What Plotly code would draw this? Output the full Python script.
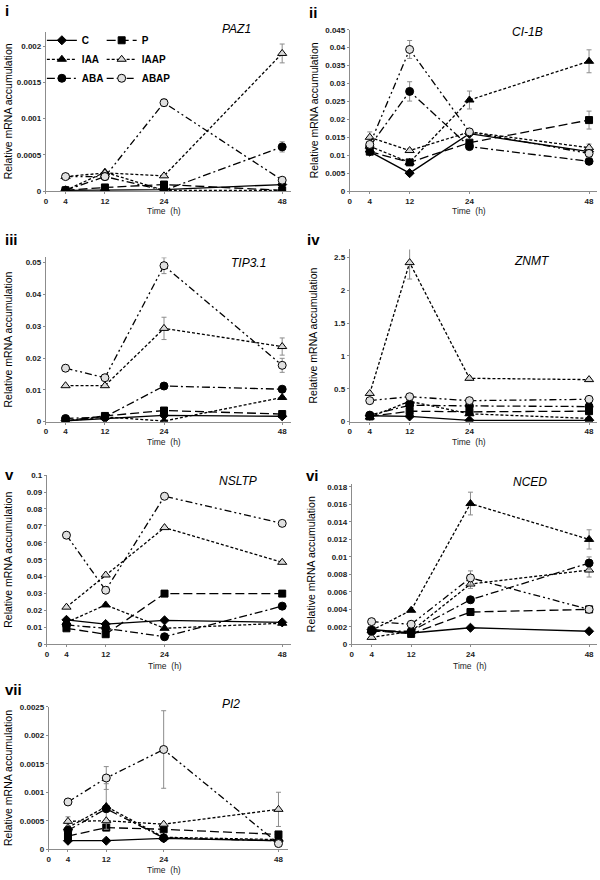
import plotly.graph_objects as go

# ---------------- data ----------------
HOURS = [4, 12, 24, 48]
SERIES = ["C", "P", "IAA", "IAAP", "ABA", "ABAP"]
X_TICKS = [0, 4, 12, 24, 48]
X_TICK_TEXT = ["0", "4", "12", "24", "48"]

# PAZ1
PAZ1_C = [0.00001, 0.00001, 0.00002, 0.00009]
PAZ1_P = [0.00001, 0.00005, 0.00009, 0.00001]
PAZ1_IAA = [0.00001, 0.00026, 0.00001, 0.00001]
PAZ1_IAAP = [0.0002, 0.00025, 0.00021, 0.0019]
PAZ1_ABA = [0.00001, 0.0002, 0.00001, 0.00061]
PAZ1_ABAP = [0.0002, 0.0002, 0.00122, 0.00015]
PAZ1_ERR = {"IAAP": [0.00002, 0, 0.00002, 0.00013], "ABAP": [0.00002, 0, 0.00005, 0.00002], "ABA": [0, 0, 0, 0.00007]}

# CI-1B
CI1B_C = [0.011, 0.005, 0.016, 0.011]
CI1B_P = [0.011, 0.008, 0.0135, 0.0198]
CI1B_IAA = [0.0125, 0.008, 0.0254, 0.0362]
CI1B_IAAP = [0.015, 0.0113, 0.0165, 0.0121]
CI1B_ABA = [0.0125, 0.0278, 0.0124, 0.0083]
CI1B_ABAP = [0.013, 0.0395, 0.0165, 0.0105]
CI1B_ERR = {"IAAP": [0.0015, 0.0005, 0, 0.001], "ABAP": [0, 0.0025, 0, 0.001], "ABA": [0, 0.0027, 0, 0],
            "IAA": [0, 0, 0.0025, 0.0032], "P": [0, 0, 0, 0.0025]}

# TIP3.1
TIP31_C = [0.0003, 0.001, 0.002, 0.0017]
TIP31_P = [0.0003, 0.0018, 0.0035, 0.0024]
TIP31_IAA = [0.0002, 0.0015, 0.0002, 0.0076]
TIP31_IAAP = [0.0113, 0.0113, 0.0293, 0.0236]
TIP31_ABA = [0.001, 0.0015, 0.0112, 0.0102]
TIP31_ABAP = [0.0168, 0.0138, 0.049, 0.0177]
TIP31_ERR = {"IAAP": [0, 0, 0.0035, 0.0027], "ABAP": [0.001, 0, 0.0025, 0.0022]}

# ZNMT
ZNMT_C = [0.09, 0.08, 0.02, 0.02]
ZNMT_P = [0.08, 0.16, 0.15, 0.16]
ZNMT_IAA = [0.07, 0.31, 0.12, 0.05]
ZNMT_IAAP = [0.43, 2.42, 0.66, 0.64]
ZNMT_ABA = [0.1, 0.25, 0.24, 0.23]
ZNMT_ABAP = [0.32, 0.38, 0.32, 0.34]
ZNMT_ERR = {"IAAP": [0, 0.25, 0.03, 0.02]}

# NSLTP
NSLTP_C = [0.0145, 0.012, 0.0142, 0.013]
NSLTP_P = [0.0095, 0.006, 0.03, 0.03]
NSLTP_IAA = [0.013, 0.0233, 0.0095, 0.0125]
NSLTP_IAAP = [0.022, 0.041, 0.069, 0.0485]
NSLTP_ABA = [0.0115, 0.0095, 0.0045, 0.0226]
NSLTP_ABAP = [0.0645, 0.032, 0.0875, 0.0715]
NSLTP_ERR = {}

# NCED
NCED_C = [0.0017, 0.0013, 0.0019, 0.0015]
NCED_P = [0.0016, 0.0012, 0.0037, 0.004]
NCED_IAA = [0.0016, 0.0039, 0.0161, 0.012]
NCED_IAAP = [0.0008, 0.0015, 0.0069, 0.0085]
NCED_ABA = [0.0015, 0.0015, 0.0051, 0.0093]
NCED_ABAP = [0.0026, 0.0023, 0.0076, 0.004]
NCED_ERR = {"IAA": [0, 0, 0.0013, 0.0011], "ABAP": [0, 0, 0.0008, 0], "ABA": [0, 0, 0, 0.0007],
            "IAAP": [0, 0, 0.0005, 0.0008]}

# PI2
PI2_C = [0.00015, 0.00015, 0.00019, 0.00015]
PI2_P = [0.00023, 0.00038, 0.00035, 0.00026]
PI2_IAA = [0.00038, 0.00075, 0.00021, 0.00017]
PI2_IAAP = [0.00049, 0.0005, 0.00044, 0.0007]
PI2_ABA = [0.00033, 0.00071, 0.0002, 0.00015]
PI2_ABAP = [0.00083, 0.00125, 0.00175, 0.0001]
PI2_ERR = {"ABAP": [0, 0.0002, 0.00068, 0], "IAAP": [0.00008, 0, 0, 0.0003], "IAA": [0, 0.0004, 0, 0]}

Y_TICKS_I = [0, 0.0005, 0.001, 0.0015, 0.002]
Y_TEXT_I = ["0", "0.0005", "0.001", "0.0015", "0.002"]
Y_TICKS_II = [0, 0.005, 0.01, 0.015, 0.02, 0.025, 0.03, 0.035, 0.04, 0.045]
Y_TEXT_II = ["0", "0.005", "0.01", "0.015", "0.02", "0.025", "0.03", "0.035", "0.04", "0.045"]
Y_TICKS_III = [0, 0.01, 0.02, 0.03, 0.04, 0.05]
Y_TEXT_III = ["0", "0.01", "0.02", "0.03", "0.04", "0.05"]
Y_TICKS_IV = [0, 0.5, 1, 1.5, 2, 2.5]
Y_TEXT_IV = ["0", "0.5", "1", "1.5", "2", "2.5"]
Y_TICKS_V = [0, 0.01, 0.02, 0.03, 0.04, 0.05, 0.06, 0.07, 0.08, 0.09, 0.1]
Y_TEXT_V = ["0", "0.01", "0.02", "0.03", "0.04", "0.05", "0.06", "0.07", "0.08", "0.09", "0.1"]
Y_TICKS_VI = [0, 0.002, 0.004, 0.006, 0.008, 0.01, 0.012, 0.014, 0.016, 0.018]
Y_TEXT_VI = ["0", "0.002", "0.004", "0.006", "0.008", "0.01", "0.012", "0.014", "0.016", "0.018"]
Y_TICKS_VII = [0, 0.0005, 0.001, 0.0015, 0.002, 0.0025]
Y_TEXT_VII = ["0", "0.0005", "0.001", "0.0015", "0.002", "0.0025"]

# ---------------- styles ----------------
W, H = 600, 880
STYLE = {
    "C": dict(symbol="diamond", size=7, fill="black", dash="solid"),
    "P": dict(symbol="square", size=7, fill="black", dash="9px,4px"),
    "IAA": dict(symbol="triangle-up", size=8, fill="black", dash="3px,2px"),
    "IAAP": dict(symbol="triangle-up", size=8, fill="#d8d8d8", dash="3px,2px"),
    "ABA": dict(symbol="circle", size=8, fill="black", dash="8px,3px,2px,3px"),
    "ABAP": dict(symbol="circle", size=8, fill="#e0e0e0", dash="7px,3px,2px,3px,2px,3px"),
}
LEGEND_OF = {"C": "legend", "IAA": "legend", "ABA": "legend",
             "P": "legend2", "IAAP": "legend2", "ABAP": "legend2"}

PANELS = [
    ("i", "PAZ1", [PAZ1_C, PAZ1_P, PAZ1_IAA, PAZ1_IAAP, PAZ1_ABA, PAZ1_ABAP], PAZ1_ERR, Y_TICKS_I, Y_TEXT_I,
     44, 290, 28, 189, 0.0022, 49.8, (1, 7), (235, 25), 6, 209),
    ("ii", "CI-1B", [CI1B_C, CI1B_P, CI1B_IAA, CI1B_IAAP, CI1B_ABA, CI1B_ABAP], CI1B_ERR, Y_TICKS_II, Y_TEXT_II,
     349, 597, 26, 189, 0.045, 49.6, (306, 9), (527, 28), 313, 209),
    ("iii", "TIP3.1", [TIP31_C, TIP31_P, TIP31_IAA, TIP31_IAAP, TIP31_ABA, TIP31_ABAP], TIP31_ERR, Y_TICKS_III, Y_TEXT_III,
     44, 290, 256, 422, 0.0516, 49.8, (1, 238), (247, 262), 6, 443),
    ("iv", "ZNMT", [ZNMT_C, ZNMT_P, ZNMT_IAA, ZNMT_IAAP, ZNMT_ABA, ZNMT_ABAP], ZNMT_ERR, Y_TICKS_IV, Y_TEXT_IV,
     349, 597, 248, 422, 2.62, 49.6, (304, 238), (532, 260), 312, 443),
    ("v", "NSLTP", [NSLTP_C, NSLTP_P, NSLTP_IAA, NSLTP_IAAP, NSLTP_ABA, NSLTP_ABAP], NSLTP_ERR, Y_TICKS_V, Y_TEXT_V,
     45, 290, 476, 647, 0.1, 49.8, (1, 475), (237, 482), 6, 669),
    ("vi", "NCED", [NCED_C, NCED_P, NCED_IAA, NCED_IAAP, NCED_ABA, NCED_ABAP], NCED_ERR, Y_TICKS_VI, Y_TEXT_VI,
     351, 597, 485, 647, 0.01833, 49.6, (303, 476), (530, 483), 310, 669),
    ("vii", "PI2", [PI2_C, PI2_P, PI2_IAA, PI2_IAAP, PI2_ABA, PI2_ABAP], PI2_ERR, Y_TICKS_VII, Y_TEXT_VII,
     47, 287, 710, 854, 0.0025, 50, (1, 693), (230, 707), 6, 874.5),
]

FONT = "Liberation Sans, Arial, sans-serif"
fig = go.Figure()
annotations = []

for k, (lab, gene, data, err, yt, ytxt, x0, x1, top, bot, ymax, xmax, npos, gpos, ytx, timey) in enumerate(PANELS):
    idx = "" if k == 0 else str(k + 1)
    xa, ya = "x" + idx, "y" + idx
    for s, vals in zip(SERIES, data):
        st = STYLE[s]
        e = err.get(s)
        fig.add_trace(go.Scatter(
            x=HOURS, y=vals, xaxis=xa, yaxis=ya, name=s,
            mode="lines+markers",
            line=dict(color="black", width=1.3, dash=st["dash"]),
            marker=dict(symbol=st["symbol"], size=st["size"], color=st["fill"],
                        line=dict(color="black", width=1)),
            error_y=dict(type="data", array=e, visible=e is not None, color="#8c8c8c",
                         thickness=1, width=2.5),
            showlegend=(k == 0), legend=LEGEND_OF[s],
        ))
    axis_common = dict(showgrid=False, zeroline=False, showline=True, linecolor="#8c8c8c",
                       linewidth=1, ticks="outside", tickcolor="#8c8c8c", ticklen=2,
                       tickfont=dict(family=FONT, size=8, color="#222", weight="bold"))
    fig.update_layout(**{
        ("xaxis" + idx): dict(domain=[x0 / W, x1 / W], range=[0, xmax], anchor=ya,
                              tickvals=X_TICKS, ticktext=X_TICK_TEXT, **axis_common),
        ("yaxis" + idx): dict(domain=[1 - bot / H, 1 - top / H], range=[0, ymax], anchor=xa,
                              tickvals=yt, ticktext=ytxt, **axis_common),
    })
    annotations.append(dict(text="<b>%s</b>" % lab, x=npos[0] / W, y=1 - npos[1] / H, xref="paper", yref="paper",
                            xanchor="left", yanchor="middle", showarrow=False,
                            font=dict(family=FONT, size=15, color="black")))
    annotations.append(dict(text="<i>%s</i>" % gene, x=gpos[0] / W, y=1 - gpos[1] / H, xref="paper", yref="paper",
                            xanchor="center", yanchor="middle", showarrow=False,
                            font=dict(family=FONT, size=12, color="black")))
    annotations.append(dict(text="Relative mRNA accumulation", x=ytx / W, y=1 - ((top + bot) / 2) / H,
                            xref="paper", yref="paper", xanchor="center", yanchor="middle", textangle=-90,
                            showarrow=False, font=dict(family=FONT, size=10.5, color="black")))
    annotations.append(dict(text="Time  (h)", x=(x0 + (x1 - x0) * 24 / xmax) / W, y=1 - timey / H,
                            xref="paper", yref="paper", xanchor="center", yanchor="middle",
                            showarrow=False, font=dict(family=FONT, size=8.5, color="#222")))

legend_common = dict(bgcolor="rgba(0,0,0,0)", borderwidth=0, xanchor="left", yanchor="top",
                     font=dict(family=FONT, size=10, color="black", weight="bold"),
                     itemwidth=30, tracegroupgap=0, traceorder="normal", orientation="v")
fig.update_layout(
    width=W, height=H, margin=dict(l=0, r=0, t=0, b=0),
    paper_bgcolor="white", plot_bgcolor="white",
    annotations=annotations,
    legend=dict(x=40 / W, y=1 - 22 / H, **legend_common),
    legend2=dict(x=100 / W, y=1 - 22 / H, **legend_common),
)

fig.write_html("out.html", config={"displayModeBar": False},
               post_script="document.body.style.margin='0';document.body.style.padding='0';")
